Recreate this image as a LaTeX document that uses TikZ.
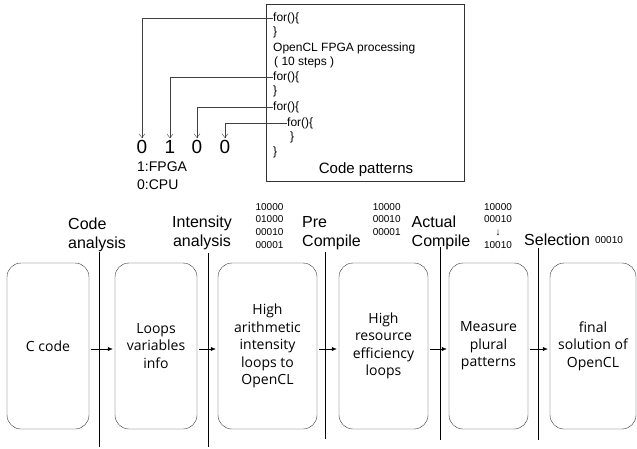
\documentclass[tikz,border=0pt]{standalone}
\usepackage{fontspec}
\setmainfont{Liberation Sans}
\newfontfamily\boxfont{Open Sans}
\usetikzlibrary{arrows.meta}

\begin{document}
\begin{tikzpicture}[x=1pt,y=-1pt,
	code/.style={anchor=west,inner sep=0pt,font=\fontsize{12}{14}\selectfont},
	bit/.style={inner sep=2pt,font=\fontsize{19}{22}\selectfont},
	pick/.style={draw=black!75,-{Straight Barb[length=4pt,width=6pt]}},
	stage/.style={draw=black!80,rounded corners=14pt,minimum height=166pt,align=center,font=\boxfont\fontsize{14}{17.5}\selectfont},
	flow/.style={-{Latex[length=5pt,width=4pt]},shorten <=2pt,shorten >=2pt},
	phase/.style={inner sep=0pt,anchor=north west,align=left,font=\fontsize{16}{19}\selectfont},
	bits/.style={inner sep=0pt,anchor=north,align=center,font=\fontsize{10}{12.7}\selectfont}]
	%\draw[help lines] (0,0) grid[step=50] (637,449);
	\useasboundingbox (0,0) rectangle (637,449);
	% code patterns
	\node[draw=black!80,minimum width=198pt,minimum height=177pt,inner sep=0pt] (patterns) at (365,92.5) {};
	\node[code] (for1) at (273,18) {for()\{};
	\node[code] (cl1) at (273,32) {\}};
	\node[code] (ocl) at (273,48) {OpenCL FPGA processing};
	\node[code] (steps) at (274,62) {( 10 steps )};
	\node[code] (for2) at (273,77) {for()\{};
	\node[code] (cl2) at (273,91) {\}};
	\node[code] (for3) at (273,107) {for()\{};
	\node[code] (for4) at (287,123) {for()\{};
	\node[code] (cl4) at (290,137) {\}};
	\node[code] (cl3) at (273,152) {\}};
	\node[font=\fontsize{15}{18}\selectfont] (title) at (366,170) {Code patterns};
	\node[bit] (d1) at (142,147) {0};
	\node[bit] (d2) at (170,147) {1};
	\node[bit] (d3) at (197,147) {0};
	\node[bit] (d4) at (225,147) {0};
	\draw[pick] (for1.west) -| (d1.north);
	\draw[pick] (for2.west) -| (d2.north);
	\draw[pick] (for3.west) -| (d3.north);
	\draw[pick] (for4.west) -| (d4.north);
	\node[anchor=north west,inner sep=0pt,align=left,font=\fontsize{14}{17.7}\selectfont] (legend) at (137,161.5) {1:FPGA\\0:CPU};
	% flow
	\node[stage,minimum width=82pt] (ccode) at (48,346) {C code};
	\node[stage,minimum width=82pt] (loops) at (156,346) {Loops\\variables\\info};
	\node[stage,minimum width=99pt] (intense) at (267.5,346) {High\\arithmetic\\intensity\\loops to\\OpenCL};
	\node[stage,minimum width=89pt] (resource) at (383.5,346) {High\\resource\\efficiency\\loops};
	\node[stage,minimum width=79pt] (measure) at (488.5,346) {Measure\\plural\\patterns};
	\node[stage,minimum width=86pt] (final) at (593,346) {final\\solution of\\OpenCL};
	\draw[flow] ([yshift=-3pt]ccode.east) -- ([yshift=-3pt]loops.west);
	\draw[flow] ([yshift=-3pt]loops.east) -- ([yshift=-3pt]intense.west);
	\draw[flow] ([yshift=-3pt]intense.east) -- ([yshift=-3pt]resource.west);
	\draw[flow] ([yshift=-3pt]resource.east) -- ([yshift=-3pt]measure.west);
	\draw[flow] ([yshift=-3pt]measure.east) -- ([yshift=-3pt]final.west);
	\draw (99,252) -- (99,447);
	\draw (208,253) -- (208,447);
	\draw (325,252) -- (325,439);
	\draw (440,247) -- (440,440);
	\draw (538,248) -- (538,440);
	\node[phase] (ana) at (68,217.5) {Code\\analysis};
	\node[phase,anchor=north,align=center] (inten) at (202,215.5) {Intensity\\analysis};
	\node[phase] (pre) at (302,216.5) {Pre\\Compile};
	\node[phase] (act) at (411.5,216) {Actual\\Compile};
	\node[phase] (sel) at (524,234) {Selection};
	\node[bits] (bitsA) at (269.5,203) {10000\\01000\\00010\\00001};
	\node[bits] (bitsB) at (386.7,203) {10000\\00010\\00001};
	\node[bits] (bitsC) at (498,203) {10000\\00010\\↓\\10010};
	\node[font=\fontsize{10}{12}\selectfont] (best) at (609,240) {00010};
\end{tikzpicture}
\end{document}
